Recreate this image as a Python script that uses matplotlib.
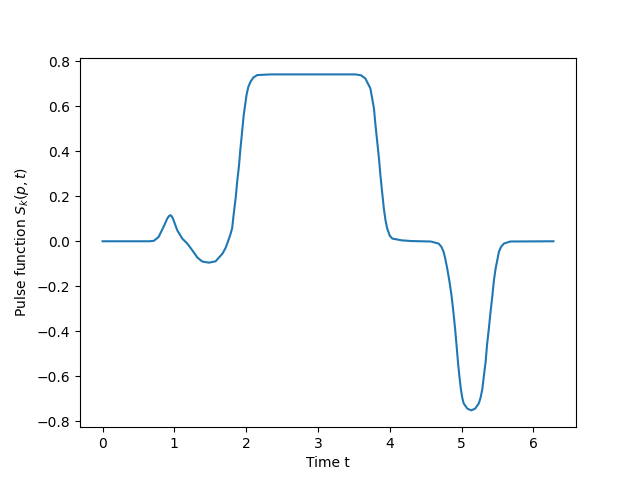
import numpy as np
import matplotlib.pyplot as plt

# values
t = [0.0, 0.5, 0.65, 0.715, 0.78, 0.85, 0.90, 0.925, 0.947, 0.97, 0.99, 1.04, 1.11, 1.18,
     1.25, 1.32, 1.39, 1.48, 1.574, 1.67, 1.713, 1.745, 1.78, 1.805, 1.83, 1.855,
     1.875, 1.90, 1.92, 1.945, 1.966, 2.005, 2.03, 2.06, 2.10, 2.155, 2.34, 3.0,
     3.52, 3.60, 3.66, 3.73, 3.78, 3.80, 3.826, 3.85, 3.87, 3.895, 3.918, 3.94,
     3.965, 4.0, 4.035, 4.17, 4.3, 4.57, 4.68, 4.72, 4.75, 4.775, 4.80, 4.83,
     4.86, 4.885, 4.91, 4.93, 4.95, 4.97, 4.99, 5.01, 5.03, 5.08, 5.135, 5.19,
     5.24, 5.265, 5.29, 5.31, 5.335, 5.355, 5.38, 5.405, 5.43, 5.45, 5.475, 5.50,
     5.52, 5.55, 5.59, 5.68, 6.28]
S = [0.0, 0.0, 0.0, 0.002, 0.019, 0.064, 0.10, 0.112, 0.116, 0.108, 0.093, 0.049, 0.012, -0.01,
     -0.04, -0.072, -0.09, -0.095, -0.089, -0.055, -0.03, -0.003, 0.03, 0.058, 0.13, 0.195,
     0.264, 0.335, 0.41, 0.49, 0.56, 0.649, 0.685, 0.708, 0.727, 0.738, 0.741, 0.741,
     0.741, 0.737, 0.723, 0.679, 0.59, 0.52, 0.441, 0.367, 0.293, 0.215, 0.145, 0.095,
     0.056, 0.025, 0.012, 0.004, 0.001, -0.001, -0.01, -0.025, -0.047, -0.08, -0.12, -0.175,
     -0.24, -0.31, -0.388, -0.46, -0.536, -0.60, -0.655, -0.695, -0.72, -0.743, -0.751, -0.743,
     -0.72, -0.695, -0.655, -0.60, -0.536, -0.46, -0.388, -0.31, -0.24, -0.175, -0.12, -0.08,
     -0.047, -0.025, -0.01, -0.001, 0.0]

plt.figure(figsize=(6.4, 4.8), dpi=100)
plt.plot(t, S)
plt.xlabel('Time t')
plt.ylabel('Pulse function $S_k(p,t)$')
plt.savefig('out.png')
